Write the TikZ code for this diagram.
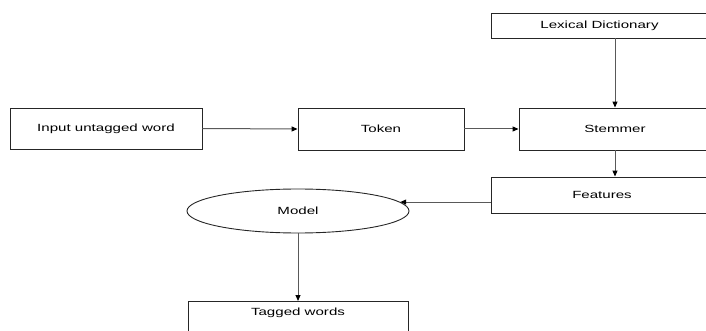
\documentclass[tikz,border=0pt]{standalone}
\usepackage{fontspec}
\newfontfamily\lab{Liberation Sans}[FakeStretch=1.45]
\usetikzlibrary{arrows.meta,shapes.geometric}
\tikzset{
  stage/.style={draw=black!85, line width=0.9pt, rectangle, inner sep=0pt,
    font=\lab\fontsize{10.4}{12}\selectfont, text=black},
  oval/.style={stage, ellipse},
  flow/.style={draw=black!65, line width=1pt,
    -{Triangle[length=6pt,width=5pt,fill=black,color=black]}}
}
\begin{document}
\begin{tikzpicture}[x=1pt,y=-1pt]
  \useasboundingbox (0,0) rectangle (706,331);
  \clip (0,0) rectangle (706,331);

  % processing stages
  \node[stage, minimum width=217pt, minimum height=25pt] (lex) at (599.5,25.5) {Lexical Dictionary};
  \node[stage, minimum width=192pt, minimum height=41pt] (inp) at (106,128.5) {Input untagged word};
  \node[stage, minimum width=166pt, minimum height=42pt] (tok) at (381,129) {Token};
  \node[stage, minimum width=192pt, minimum height=42pt] (stem) at (615,129) {Stemmer};
  \node[stage, minimum width=222pt, minimum height=36pt] (feat) at (602,195) {Features};
  \node[oval, minimum width=222pt, minimum height=44pt] (model) at (298,211) {Model};
  \node[stage, minimum width=220pt, anchor=north, text height=7.4pt, text depth=26pt,
        inner ysep=6.4pt] (tag) at (298,301) {Tagged words};

  % where the features arrow meets the model
  \coordinate (mhit) at (model.5);

  % connectors
  \draw[flow] (inp.east) -- (tok.west);
  \draw[flow] (tok.east) -- (stem.west);
  \draw[flow] (lex.south -| stem.north) -- (stem.north);
  \draw[flow] (stem.south) -- (stem.south |- feat.north);
  \draw[flow] (feat.west |- mhit) -- (mhit);
  \draw[flow] (model.south) -- (tag.north);
\end{tikzpicture}
\end{document}
